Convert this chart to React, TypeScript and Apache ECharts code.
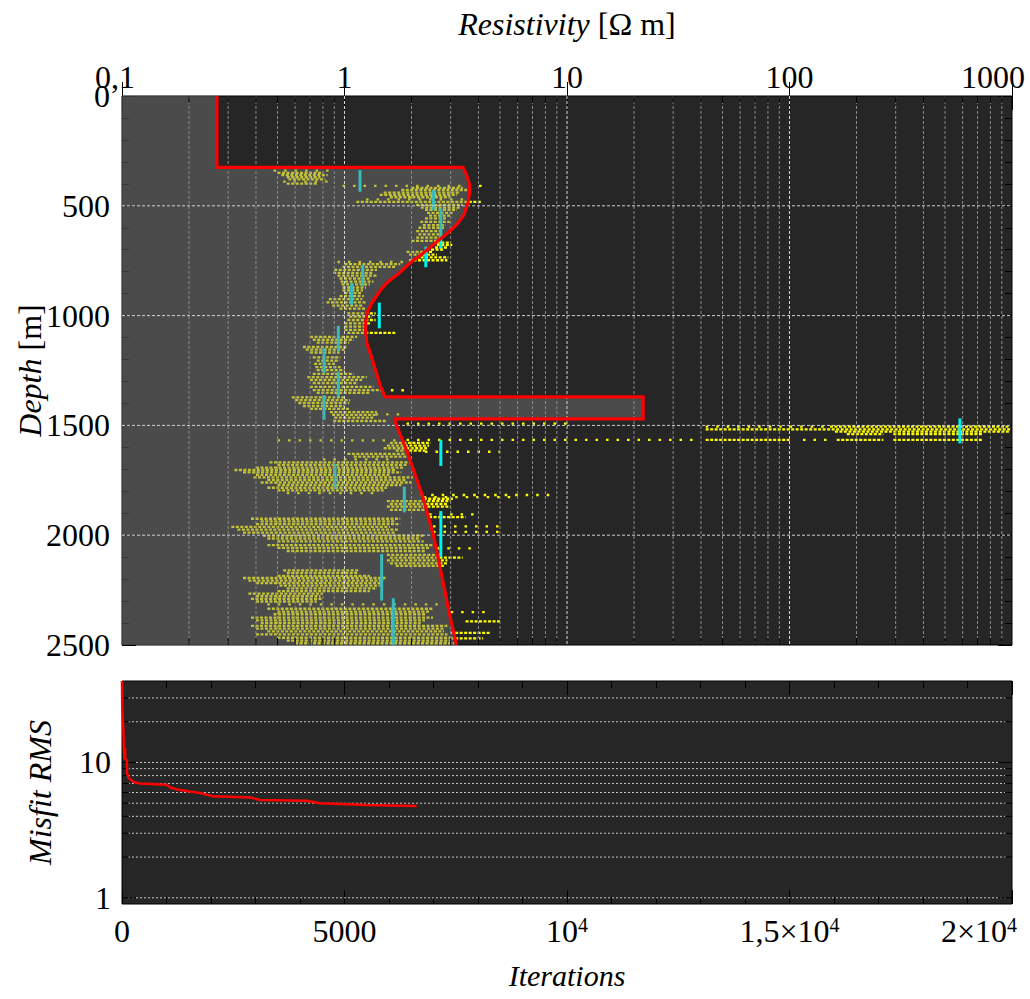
import React, { useEffect, useRef } from "react";
import * as echarts from "echarts";

const FONT = "'Liberation Serif', 'Times New Roman', Times, serif";

// Axis ranges
const resistivityRange = [0.1, 1000];
const depthRange = [0, 2500];
const iterationRange = [0, 20000];
const misfitRange = [0.9, 40];

// Best model (red outline): resistivity [Ω m] vs depth [m]
const modelResistivity = [0.267, 0.267, 3.41, 3.54, 3.64, 3.66, 3.6, 3.45, 3.2, 2.9, 2.52, 2.2, 2.0, 1.75, 1.55, 1.44, 1.32, 1.26, 1.24, 1.26, 1.32, 1.4, 1.45, 1.52, 22, 22, 1.69, 1.71, 1.9, 2.25, 2.51, 2.78, 2.98, 3.19];
const modelDepth = [0, 325, 325, 360, 400, 430, 480, 540, 585, 625, 675, 725, 755, 808, 850, 888, 945, 990, 1050, 1125, 1185, 1270, 1320, 1370, 1370, 1470, 1470, 1498, 1612, 1825, 2001, 2219, 2371, 2500];

// Sampled models, rows of points: [depth, from resistivity, to resistivity, dense(1)/sparse(0)]
const sampleStreaks = [
  [340, 0.48, 0.85, 0], [350, 0.5, 0.8, 1], [360, 0.52, 0.84, 1], [370, 0.55, 0.78, 1], [380, 0.56, 0.82, 1],
  [390, 0.53, 0.88, 0], [399, 0.55, 0.75, 1], [409, 0.98, 4.3, 0], [418, 2.0, 3.4, 1], [428, 1.8, 3.55, 1],
  [440, 1.5, 3.3, 1], [450, 1.44, 3.2, 1], [461, 1.6, 3.0, 1], [471, 1.25, 3.5, 0], [482, 1.13, 4.1, 1],
  [496, 2.1, 3.4, 1], [508, 2.2, 3.3, 1], [519, 2.3, 3.2, 1], [532, 2.35, 3.07, 1], [545, 2.4, 3.0, 1],
  [557, 2.3, 2.9, 1], [573, 2.19, 2.97, 1], [588, 2.25, 2.85, 1], [600, 2.15, 2.8, 1], [615, 2.1, 2.75, 1],
  [630, 2.15, 2.7, 1], [645, 2.1, 2.7, 1], [660, 2.0, 2.65, 1], [668, 2.6, 3.0, 1], [678, 2.6, 3.05, 1],
  [690, 2.55, 2.9, 1], [700, 2.45, 2.8, 1], [710, 1.9, 2.5, 1], [722, 1.95, 2.6, 1], [735, 2.1, 2.93, 1],
  [748, 1.95, 2.9, 1], [756, 0.93, 1.9, 0], [766, 1.0, 1.78, 1], [778, 0.98, 1.7, 1], [792, 0.9, 1.4, 1],
  [805, 0.89, 1.35, 1], [818, 0.93, 1.4, 1], [831, 0.95, 1.3, 1], [845, 0.96, 1.35, 1], [858, 0.97, 1.3, 1],
  [872, 0.98, 1.25, 1], [885, 0.98, 1.21, 1], [898, 1.0, 1.2, 1], [911, 0.95, 1.22, 1], [925, 0.85, 1.2, 1],
  [940, 0.83, 1.26, 1], [955, 0.88, 1.2, 1], [968, 0.95, 1.25, 1], [990, 1.03, 1.38, 1], [1005, 1.05, 1.33, 1],
  [1020, 1.03, 1.38, 1], [1035, 1.0, 1.3, 1], [1050, 1.0, 1.25, 1], [1065, 1.0, 1.26, 1], [1079, 1.03, 1.69, 1],
  [1097, 0.7, 1.14, 1], [1110, 0.72, 1.1, 1], [1123, 0.75, 1.05, 1], [1143, 0.65, 1.03, 1], [1155, 0.67, 1.0, 1],
  [1168, 0.7, 0.95, 1], [1190, 0.72, 0.96, 1], [1205, 0.75, 0.95, 1], [1220, 0.73, 0.92, 1], [1235, 0.74, 0.96, 1],
  [1248, 0.75, 1.0, 1], [1265, 0.72, 1.1, 1], [1280, 0.68, 1.26, 1], [1293, 0.7, 1.2, 1], [1307, 0.72, 1.15, 1],
  [1325, 0.7, 1.35, 1], [1339, 0.72, 1.45, 1], [1340, 1.45, 2.0, 0], [1352, 0.75, 1.3, 1], [1372, 0.58, 1.0, 1],
  [1385, 0.6, 1.06, 1], [1398, 0.62, 1.05, 1], [1412, 0.65, 1.0, 1], [1425, 0.7, 1.05, 1], [1440, 0.86, 1.4, 1],
  [1452, 0.88, 1.38, 1], [1450, 1.38, 1.78, 0], [1465, 0.9, 1.35, 1], [1480, 0.89, 1.55, 1], [1492, 1.9, 10, 0],
  [1506, 42, 152, 0], [1506, 152, 980, 1], [1518, 42, 980, 1], [1528, 160, 980, 1], [1540, 181, 264, 1],
  [1540, 293, 743, 1], [1566, 1.9, 37, 0], [1566, 42, 100, 1], [1566, 115, 150, 0], [1566, 163, 264, 1],
  [1566, 293, 743, 1], [1568, 0.5, 1.78, 0], [1580, 1.6, 2.44, 1], [1592, 1.55, 2.4, 1], [1604, 1.5, 2.35, 1],
  [1615, 1.7, 2.3, 1], [1620, 2.3, 5.0, 0], [1630, 1.03, 1.9, 1], [1642, 1.1, 1.95, 1], [1655, 0.8, 1.6, 0],
  [1668, 0.46, 1.97, 1], [1680, 0.5, 1.9, 1], [1692, 0.4, 1.83, 1], [1703, 0.32, 1.7, 1], [1714, 0.35, 1.8, 1],
  [1725, 0.4, 1.6, 1], [1737, 0.39, 2.03, 1], [1748, 0.45, 1.9, 1], [1760, 0.42, 2.0, 1], [1772, 0.5, 1.8, 1],
  [1784, 0.45, 1.55, 1], [1796, 0.5, 1.5, 1], [1808, 0.55, 1.4, 0], [1817, 2.2, 8.7, 0], [1827, 2.27, 6.0, 0],
  [1834, 2.27, 3.07, 1], [1845, 1.55, 3.0, 1], [1858, 1.6, 2.9, 1], [1870, 1.55, 3.0, 1], [1885, 1.6, 2.35, 1],
  [1905, 2.4, 4.0, 0], [1918, 2.4, 3.5, 1], [1925, 0.38, 1.78, 1], [1937, 0.42, 1.7, 1], [1950, 0.4, 1.78, 1],
  [1960, 2.5, 5.0, 0], [1962, 0.31, 1.6, 1], [1975, 0.33, 1.75, 1], [1985, 2.5, 5.0, 0], [1988, 0.35, 1.7, 1],
  [2002, 0.43, 2.27, 1], [2015, 0.45, 2.2, 1], [2028, 0.5, 2.27, 1], [2045, 0.45, 2.5, 1], [2058, 0.5, 2.4, 1],
  [2060, 2.6, 3.9, 0], [2072, 0.55, 2.3, 1], [2090, 1.55, 2.7, 1], [2102, 1.6, 3.4, 1], [2115, 1.55, 2.9, 1],
  [2128, 1.6, 2.9, 1], [2140, 1.7, 2.8, 1], [2160, 0.53, 1.17, 1], [2172, 0.55, 1.15, 1], [2185, 0.5, 1.3, 1],
  [2195, 0.35, 1.55, 1], [2207, 0.37, 1.5, 1], [2218, 0.4, 1.45, 1], [2230, 0.51, 1.44, 1], [2242, 0.55, 1.4, 1],
  [2255, 0.5, 1.3, 1], [2266, 0.37, 0.8, 1], [2278, 0.4, 0.78, 1], [2290, 0.38, 0.8, 1], [2302, 0.4, 0.75, 1],
  [2315, 0.45, 2.7, 0], [2335, 0.45, 2.5, 1], [2348, 0.5, 2.4, 1], [2350, 3.0, 4.4, 0], [2360, 0.48, 2.3, 1],
  [2375, 0.38, 2.5, 1], [2388, 0.4, 2.3, 1], [2392, 3.5, 5.0, 1], [2400, 0.42, 2.2, 1], [2413, 0.38, 2.9, 1],
  [2425, 0.4, 2.8, 1], [2438, 0.45, 2.8, 1], [2445, 3.0, 4.5, 1], [2452, 0.4, 2.9, 1], [2467, 0.5, 3.0, 1],
  [2470, 3.0, 4.2, 1], [2480, 0.55, 3.0, 1], [2492, 0.6, 3.1, 1],
];

// Uncertainty markers: [resistivity, top depth, bottom depth]
const uncertaintyBars = [
  [1.174, 337, 436], [2.51, 428, 519], [2.71, 511, 694], [2.32, 686, 780], [1.207, 770, 865],
  [1.076, 853, 952], [1.434, 941, 1058], [0.938, 1047, 1160], [0.809, 1149, 1263], [0.938, 1255, 1369],
  [0.809, 1362, 1475], [2.71, 1566, 1685], [0.906, 1676, 1791], [1.857, 1779, 1896], [2.71, 1890, 2098],
  [1.469, 2086, 2298], [1.657, 2287, 2500], [583, 1468, 1582],
];

// Misfit history
const misfitIterations = [0, 5, 30, 45, 55, 70, 75, 110, 115, 150, 250, 400, 1000, 1100, 1300, 1750, 2050, 2900, 3100, 4150, 4450, 5500, 6620];
const misfitValues = [40, 25, 18, 12, 10.5, 12.8, 10.6, 10.4, 8.3, 7.7, 7.2, 7.0, 6.85, 6.5, 6.25, 5.95, 5.62, 5.5, 5.28, 5.22, 5.0, 4.86, 4.76];

// Grid / tick values
const resistivityMinorGrid = [0.2, 0.3, 0.4, 0.5, 0.6, 0.7, 0.8, 0.9, 2, 3, 4, 5, 6, 7, 8, 9, 20, 30, 40, 50, 60, 70, 80, 90, 200, 300, 400, 500, 600, 700, 800, 900];
const resistivityMajorGrid = [1, 10, 100];
const depthGrid = [500, 1000, 1500, 2000];
const misfitMinorGrid = [2, 3, 4, 5, 6, 7, 8, 9, 20, 30];
const misfitMajorGrid = [1, 10];

const OVERLAY = "rgba(121,121,121,0.45)";

function App() {
  const ref = useRef<HTMLDivElement>(null);
  useEffect(() => {
    if (!ref.current) return;
    const chart = echarts.init(ref.current, null, { renderer: "svg" });
    const baseLabel = { fontFamily: FONT, fontSize: 32, color: "#000" };
    const tickStyle = { color: "#000", width: 1 };

    const isDecade = (v: number) => Math.abs(Math.log10(v) - Math.round(Math.log10(v))) < 1e-6;

    const option: any = {
      animation: false,
      backgroundColor: "#fff",
      grid: [
        { left: 122, top: 96, width: 890, height: 549, show: true, backgroundColor: "#262626", borderColor: "#000", borderWidth: 1, outerBoundsMode: "none", containLabel: false },
        { left: 122, top: 681, width: 890, height: 223, show: true, backgroundColor: "#262626", borderColor: "#000", borderWidth: 1, outerBoundsMode: "none", containLabel: false },
      ],
      xAxis: [
        {
          type: "log", logBase: 10, gridIndex: 0, position: "top", min: resistivityRange[0], max: resistivityRange[1],
          name: "{i|Resistivity} [Ω m]", nameLocation: "middle", nameGap: 56, nameMoveOverlap: false,
          nameTextStyle: { ...baseLabel, rich: { i: { ...baseLabel, fontStyle: "italic" } } },
          axisLine: { show: false }, splitLine: { show: false },
          axisTick: { show: true, inside: true, length: 14, lineStyle: tickStyle },
          axisLabel: {
            ...baseLabel, margin: 3, showMinLabel: true, showMaxLabel: true,
            formatter: (v: number) => {
              if (v < 0.5) return "{n|0,1}{p| }";
              if (v > 500) return "{n|1000}{q| }";
              return "{n|" + String(Math.round(v)) + "}";
            },
            rich: { n: { ...baseLabel }, p: { ...baseLabel, width: 14 }, q: { ...baseLabel, width: 38 } },
          },
        },
        {
          type: "log", logBase: 10, gridIndex: 0, position: "bottom", min: resistivityRange[0], max: resistivityRange[1],
          axisLine: { show: false }, splitLine: { show: false }, axisLabel: { show: false },
          axisTick: { show: true, inside: true, length: 14, lineStyle: tickStyle },
        },
        {
          type: "value", gridIndex: 1, position: "bottom", min: iterationRange[0], max: iterationRange[1], interval: 5000,
          name: "Iterations", nameLocation: "middle", nameGap: 56, nameMoveOverlap: false,
          nameTextStyle: { ...baseLabel, fontSize: 30, fontStyle: "italic" },
          axisLine: { show: false }, splitLine: { show: false },
          axisTick: { show: true, inside: true, length: 14, lineStyle: tickStyle },
          minorTick: { show: true, splitNumber: 5, length: 7, lineStyle: tickStyle },
          axisLabel: {
            ...baseLabel, margin: 11, showMinLabel: true, showMaxLabel: true,
            formatter: (v: number) => {
              if (v === 0) return "{n|0}";
              if (v === 5000) return "{n|5000}";
              if (v === 10000) return "{n|10}{s|4}";
              if (v === 15000) return "{n|1,5×10}{s|4}";
              if (v === 20000) return "{n|2×10}{s|4}{q| }";
              return "";
            },
            rich: { n: { ...baseLabel }, s: { ...baseLabel, fontSize: 20, verticalAlign: "top" }, q: { ...baseLabel, width: 66 } },
          },
        },
        {
          type: "value", gridIndex: 1, position: "top", min: iterationRange[0], max: iterationRange[1], interval: 5000,
          axisLine: { show: false }, splitLine: { show: false }, axisLabel: { show: false },
          axisTick: { show: true, inside: true, length: 14, lineStyle: tickStyle },
          minorTick: { show: true, splitNumber: 5, length: 7, lineStyle: tickStyle },
        },
      ],
      yAxis: [
        {
          type: "value", gridIndex: 0, position: "left", inverse: true, min: depthRange[0], max: depthRange[1], interval: 500,
          name: "{i|Depth} [m]", nameLocation: "middle", nameRotate: 90, nameGap: 76, nameMoveOverlap: false,
          nameTextStyle: { ...baseLabel, rich: { i: { ...baseLabel, fontStyle: "italic" } } },
          axisLine: { show: false }, splitLine: { show: false },
          axisTick: { show: true, inside: true, length: 14, lineStyle: tickStyle },
          minorTick: { show: true, splitNumber: 5, length: 7, lineStyle: tickStyle },
          axisLabel: { ...baseLabel, margin: 12, showMinLabel: true, showMaxLabel: true, formatter: (v: number) => String(Math.round(v)) },
        },
        {
          type: "value", gridIndex: 0, position: "right", inverse: true, min: depthRange[0], max: depthRange[1], interval: 500,
          axisLine: { show: false }, splitLine: { show: false }, axisLabel: { show: false },
          axisTick: { show: true, inside: true, length: 14, lineStyle: tickStyle },
          minorTick: { show: true, splitNumber: 5, length: 7, lineStyle: tickStyle },
        },
        {
          type: "log", logBase: 10, gridIndex: 1, position: "left", min: misfitRange[0], max: misfitRange[1],
          name: "Misfit RMS", nameLocation: "middle", nameRotate: 90, nameGap: 66, nameMoveOverlap: false,
          nameTextStyle: { ...baseLabel, fontStyle: "italic" },
          axisLine: { show: false }, splitLine: { show: false },
          axisTick: { show: false },
          axisLabel: {
            ...baseLabel, margin: 11, showMinLabel: true, showMaxLabel: true,
            formatter: (v: number) => (isDecade(v) && v > 0.95 && v < 10.5 ? String(Math.round(v)) : ""),
          },
        },
        {
          type: "log", logBase: 10, gridIndex: 1, position: "right", min: misfitRange[0], max: misfitRange[1],
          axisLine: { show: false }, splitLine: { show: false }, axisLabel: { show: false }, axisTick: { show: false },
        },
      ],
      series: [
        // sampled model rows
        {
          type: "custom", name: "samples", xAxisIndex: 0, yAxisIndex: 0, z: 2, silent: true, clip: true,
          encode: { x: 0, y: 1 },
          data: sampleStreaks.map((s) => [s[1], s[0], s[2], s[3]]),
          renderItem: (params: any, api: any) => {
            const p0 = api.coord([api.value(0), api.value(1)]);
            const p1 = api.coord([api.value(2), api.value(1)]);
            const dense = api.value(3) === 1;
            return {
              type: "line",
              shape: { x1: p0[0], y1: p0[1], x2: p1[0], y2: p1[1] },
              style: { stroke: "#ffff00", lineWidth: 2.3, lineDash: dense ? [3, 1.5] : [2.5, 8] },
            };
          },
        },
        // uncertainty markers
        {
          type: "custom", name: "uncertainty", xAxisIndex: 0, yAxisIndex: 0, z: 3, silent: true, clip: true,
          encode: { x: 0, y: 1 },
          data: uncertaintyBars.map((b) => [b[0], b[1], b[2]]),
          renderItem: (params: any, api: any) => {
            const p0 = api.coord([api.value(0), api.value(1)]);
            const p1 = api.coord([api.value(0), api.value(2)]);
            return {
              type: "line",
              shape: { x1: p0[0], y1: p0[1], x2: p1[0], y2: p1[1] },
              style: { stroke: "#00f0f0", lineWidth: 3 },
            };
          },
        },
        // shaded region left of the model
        {
          type: "custom", name: "modelFill", xAxisIndex: 0, yAxisIndex: 0, z: 4, silent: true,
          encode: { x: 0, y: 1 },
          data: modelResistivity.map((v, i) => [v, modelDepth[i]]),
          renderItem: (params: any, api: any) => {
            if (params.dataIndex !== 0) return null;
            const pts: number[][] = [api.coord([resistivityRange[0], depthRange[0]])];
            for (let i = 0; i < modelResistivity.length; i++) pts.push(api.coord([modelResistivity[i], modelDepth[i]]));
            pts.push(api.coord([resistivityRange[0], depthRange[1]]));
            return { type: "polygon", shape: { points: pts }, style: { fill: OVERLAY } };
          },
        },
        // top grid lines and minor ticks
        {
          type: "custom", name: "topGrid", xAxisIndex: 0, yAxisIndex: 0, z: 5, silent: true,
          encode: { x: 0, y: 1 },
          data: [
            ...resistivityMinorGrid.map((v) => [v, 1000, 0]),
            ...resistivityMajorGrid.map((v) => [v, 1000, 1]),
            ...depthGrid.map((d) => [1, d, 2]),
          ],
          renderItem: (params: any, api: any) => {
            const kind = api.value(2);
            if (kind === 2) {
              const a = api.coord([resistivityRange[0], api.value(1)]);
              const b = api.coord([resistivityRange[1], api.value(1)]);
              return { type: "line", shape: { x1: a[0], y1: a[1], x2: b[0], y2: b[1] }, style: { stroke: "#d0d0d0", lineWidth: 1, lineDash: [3, 2] } };
            }
            const t = api.coord([api.value(0), depthRange[0]]);
            const b = api.coord([api.value(0), depthRange[1]]);
            const children: any[] = [
              { type: "line", shape: { x1: t[0], y1: t[1], x2: b[0], y2: b[1] }, style: { stroke: kind === 1 ? "#d8d8d8" : "#8c8c8c", lineWidth: 1, lineDash: [3, 2] } },
            ];
            if (kind === 0) {
              children.push({ type: "line", shape: { x1: t[0], y1: t[1], x2: t[0], y2: t[1] + 7 }, style: { stroke: "#000", lineWidth: 1 } });
              children.push({ type: "line", shape: { x1: b[0], y1: b[1] - 7, x2: b[0], y2: b[1] }, style: { stroke: "#000", lineWidth: 1 } });
            }
            return { type: "group", children };
          },
        },
        // model outline
        {
          type: "line", name: "model", xAxisIndex: 0, yAxisIndex: 0, z: 6, silent: true,
          showSymbol: false, symbol: "none",
          data: modelResistivity.map((v, i) => [v, modelDepth[i]]),
          lineStyle: { color: "#ff0000", width: 3.2, join: "miter" },
        },
        // bottom grid lines
        {
          type: "custom", name: "misfitGrid", xAxisIndex: 2, yAxisIndex: 2, z: 3, silent: true,
          encode: { x: 0, y: 1 },
          data: [...misfitMinorGrid.map((m) => [10000, m, 0]), ...misfitMajorGrid.map((m) => [10000, m, 1])],
          renderItem: (params: any, api: any) => {
            const a = api.coord([iterationRange[0], api.value(1)]);
            const b = api.coord([iterationRange[1], api.value(1)]);
            const len = api.value(2) === 1 ? 14 : 7;
            return {
              type: "group",
              children: [
                { type: "line", shape: { x1: a[0] + 6, y1: a[1], x2: b[0] - 6, y2: b[1] }, style: { stroke: "#c8c8c8", lineWidth: 1, lineDash: [2, 2] } },
                { type: "line", shape: { x1: a[0], y1: a[1], x2: a[0] + len, y2: a[1] }, style: { stroke: "#000", lineWidth: 1 } },
                { type: "line", shape: { x1: b[0] - len, y1: b[1], x2: b[0], y2: b[1] }, style: { stroke: "#000", lineWidth: 1 } },
              ],
            };
          },
        },
        // misfit curve
        {
          type: "line", name: "misfit", xAxisIndex: 2, yAxisIndex: 2, z: 6, silent: true,
          showSymbol: false, symbol: "none", clip: true,
          data: misfitIterations.map((it, i) => [it, misfitValues[i]]),
          lineStyle: { color: "#ff0000", width: 2.5 },
        },
      ],
    };
    chart.setOption(option);
    return () => chart.dispose();
  }, []);
  return <div ref={ref} style={{ position: "fixed", left: 0, top: 0, width: 1030, height: 999 }} />;
}

export default App;
